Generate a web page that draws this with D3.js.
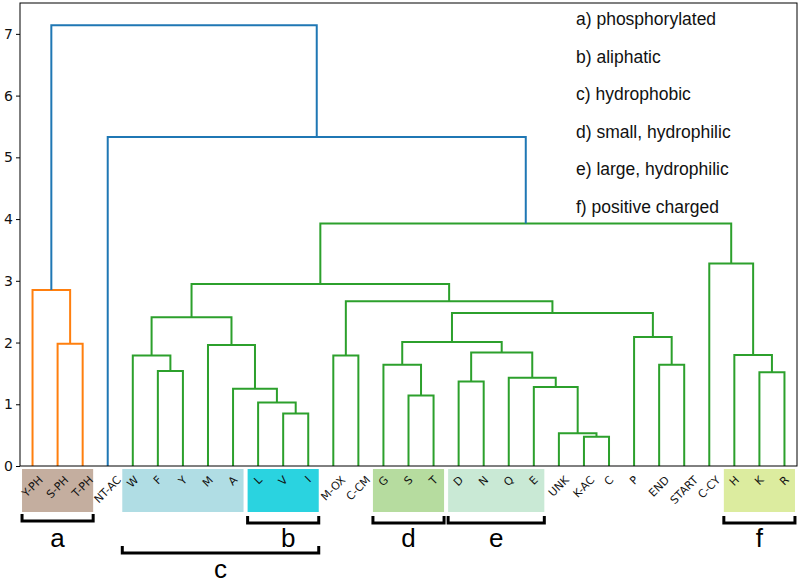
<!DOCTYPE html>
<html>
<head>
<meta charset="utf-8">
<script src="https://cdn.jsdelivr.net/npm/d3@7/dist/d3.min.js"></script>
<style>
  body { margin: 0; background: #fff; }
  svg { display: block; }
</style>
</head>
<body>
<div id="chart"></div>
<script>
// leaf order along the x axis
var leaves = ["Y-PH", "S-PH", "T-PH", "NT-AC", "W", "F", "Y", "M", "A", "L", "V", "I",
  "M-OX", "C-CM", "G", "S", "T", "D", "N", "Q", "E", "UNK", "K-AC", "C", "P",
  "END", "START", "C-CY", "H", "K", "R"]

// linkage: [id, left child, right child, height]
var merges = [
  ["m1", "S-PH", "T-PH", 1.98],
  ["m2", "Y-PH", "m1", 2.85],
  ["m3", "F", "Y", 1.54],
  ["m4", "W", "m3", 1.79],
  ["m5", "V", "I", 0.85],
  ["m6", "L", "m5", 1.03],
  ["m7", "A", "m6", 1.25],
  ["m8", "M", "m7", 1.96],
  ["m9", "m4", "m8", 2.41],
  ["m10", "M-OX", "C-CM", 1.79],
  ["m11", "S", "T", 1.14],
  ["m12", "G", "m11", 1.64],
  ["m13", "D", "N", 1.37],
  ["m14", "K-AC", "C", 0.475],
  ["m15", "UNK", "m14", 0.53],
  ["m16", "E", "m15", 1.28],
  ["m17", "Q", "m16", 1.43],
  ["m18", "m13", "m17", 1.84],
  ["m19", "m12", "m18", 2.01],
  ["m20", "END", "START", 1.64],
  ["m21", "P", "m20", 2.09],
  ["m22", "m19", "m21", 2.48],
  ["m23", "m10", "m22", 2.67],
  ["m24", "m9", "m23", 2.95],
  ["m25", "K", "R", 1.52],
  ["m26", "H", "m25", 1.80],
  ["m27", "C-CY", "m26", 3.28],
  ["m28", "m24", "m27", 3.93],
  ["m29", "NT-AC", "m28", 5.33],
  ["m30", "m2", "m29", 7.14]
]

var yTicks = [0, 1, 2, 3, 4, 5, 6, 7]

// shaded label boxes: [first leaf, last leaf]
var boxes = [
  ["Y-PH", "T-PH"], ["W", "A"], ["L", "I"], ["G", "T"], ["D", "E"], ["H", "R"]
]
var boxColors = ["#c4ae9f", "#b0dde4", "#2ad3e0", "#b6dc9f", "#c9e9d5", "#dcec9f"]

// brackets under groups: [letter, first leaf, last leaf]
var groups = [
  ["a", "Y-PH", "T-PH"], ["b", "L", "I"], ["c", "W", "I"],
  ["d", "G", "T"], ["e", "D", "E"], ["f", "H", "R"]
]

var legend = ["a) phosphorylated", "b) aliphatic", "c) hydrophobic",
  "d) small, hydrophilic", "e) large, hydrophilic", "f) positive charged"]

var width = 800
var height = 583
var mLeft = 20, mRight = 797, mTop = 3, mBottom = 466

var svg = d3.select("#chart").append("svg")
  .attr("width", width)
  .attr("height", height)

var x = d3.scaleLinear().domain([0, leaves.length * 10]).range([mLeft, mRight])
var y = d3.scaleLinear().domain([0, 7.5]).range([mBottom, mTop])

// position of every node (leaf or merge)
var pos = {}
var byId = {}
leaves.forEach(function(d, i) { pos[d] = { x: 10 * i + 5, h: 0 } })
merges.forEach(function(m) {
  byId[m[0]] = m
  pos[m[0]] = { x: (pos[m[1]].x + pos[m[2]].x) / 2, h: m[3] }
})

// link colours like scipy: above threshold blue, each cluster below gets its own colour
var threshold = 0.7 * d3.max(merges, function(m) { return m[3] })
var clusterColors = ["#ff7f0e", "#2ca02c"]
var color = {}
var ci = 0
function paint(id, c) {
  var m = byId[id]
  if (!m) return
  if (m[3] >= threshold) {
    color[id] = "#1f77b4"
    paint(m[1], null)
    paint(m[2], null)
  } else {
    if (!c) c = clusterColors[ci++ % clusterColors.length]
    color[id] = c
    paint(m[1], c)
    paint(m[2], c)
  }
}
paint(merges[merges.length - 1][0], null)

// boxes behind leaf labels
svg.append("g").selectAll("rect")
  .data(boxes)
  .enter()
  .append("rect")
  .attr("x", function(d) { return x(pos[d[0]].x) - 10.5 })
  .attr("width", function(d) { return x(pos[d[1]].x) - x(pos[d[0]].x) + 21 })
  .attr("y", 469)
  .attr("height", 43)
  .style("fill", function(d, i) { return boxColors[i] })

// dendrogram links
svg.append("g").selectAll("path")
  .data(merges)
  .enter()
  .append("path")
  .attr("d", function(m) {
    var a = pos[m[1]], b = pos[m[2]]
    return "M" + x(a.x) + "," + y(a.h) + "V" + y(m[3]) + "H" + x(b.x) + "V" + y(b.h)
  })
  .style("fill", "none")
  .style("stroke", function(m) { return color[m[0]] })
  .style("stroke-width", 2)

// frame
svg.append("rect")
  .attr("x", mLeft).attr("y", mTop)
  .attr("width", mRight - mLeft).attr("height", mBottom - mTop)
  .style("fill", "none").style("stroke", "#000").style("stroke-width", 1)

// y axis
var yAxis = svg.append("g")
  .attr("transform", "translate(" + mLeft + ",0)")
  .call(d3.axisLeft(y).tickValues(yTicks).tickSize(4).tickPadding(3).tickFormat(d3.format("d")))
yAxis.select(".domain").remove()
yAxis.selectAll("text")
  .style("font-family", "DejaVu Sans")
  .style("font-size", "14px")
  .style("fill", "#111")

// leaf labels rotated 45 degrees, centred on their ticks
var lab = svg.append("g").selectAll("text")
  .data(leaves)
  .enter()
  .append("text")
  .text(function(d) { return d })
  .attr("text-anchor", "middle")
  .attr("dominant-baseline", "central")
  .style("font-family", "DejaVu Sans")
  .style("font-size", "11px")
  .style("fill", "#111")
lab.each(function(d) {
  var w = this.getComputedTextLength()
  var cy = 475 + (w + 9) * Math.SQRT1_2 / 2
  var cx = x(pos[d].x)
  d3.select(this)
    .attr("x", cx).attr("y", cy)
    .attr("transform", "rotate(-45," + cx + "," + cy + ")")
})

// brackets
var br = svg.append("g").selectAll("g")
  .data(groups)
  .enter()
  .append("g")
br.append("path")
  .attr("d", function(d) {
    var x0 = x(pos[d[1]].x) - 10.5, x1 = x(pos[d[2]].x) + 10.5
    var yy = d[0] == "c" ? 553 : (d[0] == "a" ? 521 : 523)
    return "M" + x0 + "," + (yy - 7) + "V" + yy + "H" + x1 + "V" + (yy - 7)
  })
  .style("fill", "none")
  .style("stroke", "#000")
  .style("stroke-width", 3)
br.append("text")
  .text(function(d) { return d[0] })
  .attr("x", function(d) { return (x(pos[d[1]].x) + x(pos[d[2]].x)) / 2 + (d[0] == "b" ? 5 : 0) })
  .attr("y", function(d) { return d[0] == "c" ? 578 : 547 })
  .attr("text-anchor", "middle")
  .style("font-family", "Liberation Sans, Arial")
  .style("font-size", "26px")
  .style("fill", "#000")

// legend text
svg.append("g").selectAll("text")
  .data(legend)
  .enter()
  .append("text")
  .text(function(d) { return d })
  .attr("x", 576)
  .attr("y", function(d, i) { return 19 + i * 37.6 })
  .attr("dominant-baseline", "central")
  .style("font-family", "Liberation Sans, Arial")
  .style("font-size", "17.5px")
  .style("fill", "#111")
</script>
</body>
</html>
